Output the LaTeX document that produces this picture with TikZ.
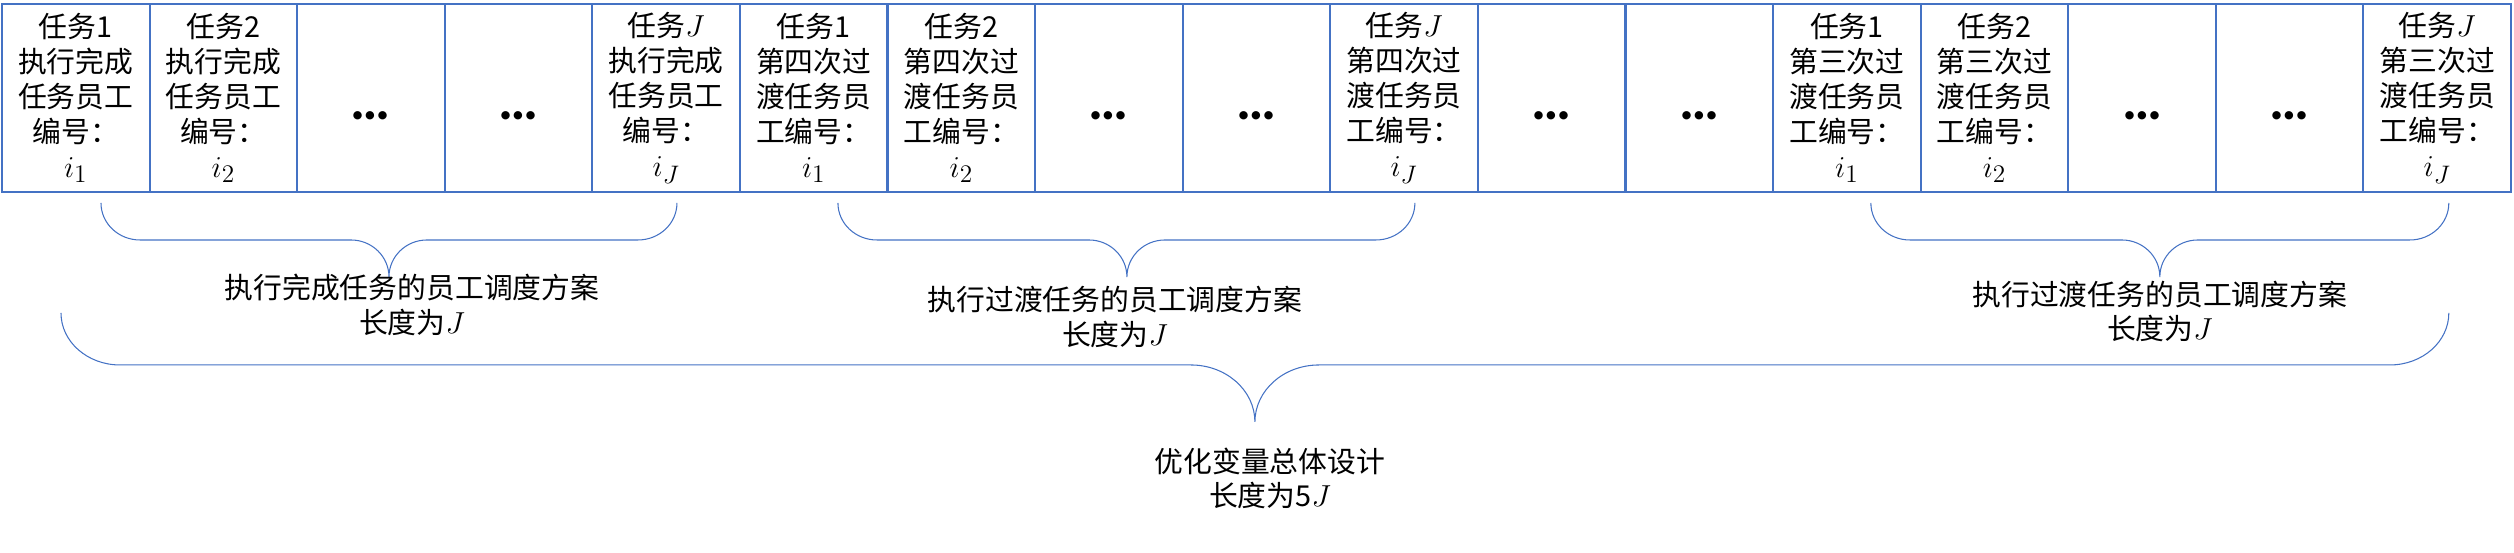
\documentclass[tikz,border=0pt]{standalone}
\usepackage{fontspec}
\setmainfont{Noto Sans CJK SC}
\newfontfamily\dotsfont{Carlito}
\definecolor{officeBlue}{HTML}{4472C4}

\def\cellWidth{2.952cm}
\def\cellHeight{3.76cm}
\def\numCells{17}
\def\bigMath#1{{\fontsize{19pt}{19.9pt}\selectfont$#1$}}

\begin{document}
\begin{tikzpicture}[
    cellText/.style={align=center,font=\fontsize{16.4pt}{19.9pt}\selectfont},
    dotsText/.style={anchor=base,font=\dotsfont\bfseries\fontsize{32pt}{32pt}\selectfont},
    braceText/.style={align=center,font=\fontsize{16.4pt}{19.5pt}\selectfont},
    braceLine/.style={draw=officeBlue,line width=0.6pt},
    cellLine/.style={draw=officeBlue,line width=1.2pt}
  ]
    \pgfmathsetmacro{\lastIndex}{\numCells-1}
    \useasboundingbox (-0.04cm,-7.22cm) rectangle (\numCells*\cellWidth+0.06cm,\cellHeight+0.08cm);

    \draw[cellLine] (0,0) rectangle (\numCells*\cellWidth,\cellHeight);
    \foreach \i in {1,...,\lastIndex} {
      \draw[cellLine] (\i*\cellWidth,0) -- ++(0,\cellHeight);
    }
    \foreach \i/\t in {1/{任务1\\执行完成\\任务员工\\编号：\\\bigMath{i_1}},
                       2/{任务2\\执行完成\\任务员工\\编号：\\\bigMath{i_2}},
                       5/{任务\bigMath{J}\\执行完成\\任务员工\\编号：\\\bigMath{i_J}},
                       6/{任务1\\第四次过\\渡任务员\\工编号：\\\bigMath{i_1}},
                       7/{任务2\\第四次过\\渡任务员\\工编号：\\\bigMath{i_2}},
                       10/{任务\bigMath{J}\\第四次过\\渡任务员\\工编号：\\\bigMath{i_J}},
                       13/{任务1\\第三次过\\渡任务员\\工编号：\\\bigMath{i_1}},
                       14/{任务2\\第三次过\\渡任务员\\工编号：\\\bigMath{i_2}},
                       17/{任务\bigMath{J}\\第三次过\\渡任务员\\工编号：\\\bigMath{i_J}}} {
      \node[cellText] (cell\i) at (\i*\cellWidth-0.5*\cellWidth,0.5*\cellHeight) {\t};
    }
    \foreach \i in {3,4,8,9,11,12,15,16} {
      \node[dotsText] (dots\i) at (\i*\cellWidth-0.5*\cellWidth,1.44cm) {…};
    }

    % braces under each group of cells
    \foreach \l/\c/\r in {1.98/7.74/13.50,16.72/22.50/28.26,37.38/43.16/48.94} {
      \draw[braceLine] (\l,-0.22) arc[start angle=180,end angle=270,x radius=0.78,y radius=0.74]
        -- (\c-0.76,-0.96) arc[start angle=90,end angle=0,x radius=0.76,y radius=0.74]
        arc[start angle=180,end angle=90,x radius=0.76,y radius=0.74]
        -- (\r-0.78,-0.96) arc[start angle=270,end angle=360,x radius=0.78,y radius=0.74];
    }
    \node[braceText] (doneLabel) at (8.2,-2.26) {执行完成任务的员工调度方案\\长度为\bigMath{J}};
    \node[braceText] (fourthLabel) at (22.26,-2.50) {执行过渡任务的员工调度方案\\长度为\bigMath{J}};
    \node[braceText] (thirdLabel) at (43.16,-2.39) {执行过渡任务的员工调度方案\\长度为\bigMath{J}};

    % brace over the whole design
    \draw[braceLine] (1.18,-2.42) arc[start angle=180,end angle=270,x radius=1.18,y radius=1.04]
      -- (25.06-1.28,-3.46) arc[start angle=90,end angle=0,x radius=1.28,y radius=1.14]
      arc[start angle=180,end angle=90,x radius=1.28,y radius=1.14]
      -- (48.94-1.18,-3.46) arc[start angle=270,end angle=360,x radius=1.18,y radius=1.04];
    \node[braceText] (totalLabel) at (25.36,-5.73) {优化变量总体设计\\长度为5\bigMath{J}};
  \end{tikzpicture}
\end{document}
